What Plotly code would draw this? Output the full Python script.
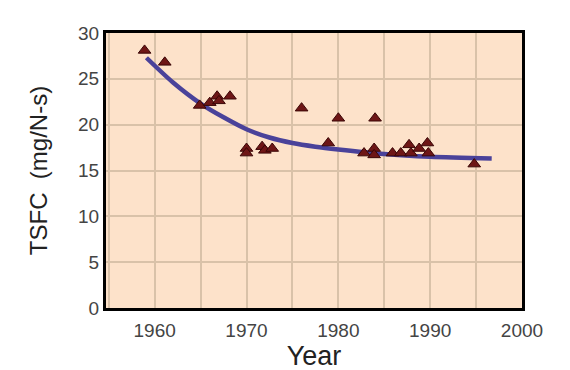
import plotly.graph_objects as go

# Measured data points (year, TSFC mg/N-s)
years = [1958.9, 1961.1, 1964.9, 1966.0, 1966.8, 1967.0, 1968.2,
         1970.0, 1970.0, 1971.7, 1972.0, 1972.8,
         1976.0, 1978.9, 1980.0, 1982.8, 1983.9, 1983.9, 1984.0,
         1985.9, 1986.8, 1987.7, 1987.9, 1988.8, 1989.7, 1989.8, 1994.8]
tsfc = [28.1, 26.8, 22.1, 22.4, 23.1, 22.6, 23.1,
        17.4, 16.9, 17.6, 17.2, 17.4,
        21.8, 18.0, 20.7, 16.9, 17.4, 16.7, 20.7,
        16.9, 16.9, 17.8, 16.9, 17.4, 18.0, 16.9, 15.7]

# Trend curve
trend_years = [1959.1, 1962, 1965, 1967.5, 1970, 1972.5, 1975, 1977.5, 1980, 1985, 1990, 1996.7]
trend_tsfc = [27.3, 24.6, 22.3, 20.8, 19.5, 18.6, 18.0, 17.6, 17.3, 16.8, 16.5, 16.3]

x_ticks = [1960, 1970, 1980, 1990, 2000]
y_ticks = [0, 5, 10, 15, 20, 25, 30]

fig = go.Figure()
fig.add_trace(go.Scatter(
    x=trend_years, y=trend_tsfc, mode="lines",
    line=dict(color="#4A429A", width=4.5, shape="spline", smoothing=0.8),
    hoverinfo="skip", showlegend=False))
fig.add_trace(go.Scatter(
    x=years, y=tsfc, mode="markers",
    marker=dict(symbol="triangle-up", size=11, color="#6E1616",
                line=dict(color="#3A0606", width=1)),
    showlegend=False))

grid = "#D9C2A9"
fig.update_layout(
    width=570, height=370,
    margin=dict(l=98, r=56, t=25, b=70),
    paper_bgcolor="white", plot_bgcolor="#FDE2CA",
    font=dict(family="Liberation Sans, Arial, sans-serif", color="#444"),
    xaxis=dict(range=[1954.7, 2000], tickvals=x_ticks,
               ticktext=[str(v) for v in x_ticks],
               showgrid=True, gridcolor=grid, gridwidth=1.5,
               minor=dict(dtick=5, tick0=1955, showgrid=True, gridcolor=grid, gridwidth=1.5),
               showline=True, linecolor="black", linewidth=3, mirror=True,
               ticks="", ticklabelstandoff=3, tickfont=dict(size=19, color="#444"),
               title=dict(text="Year", font=dict(size=27, color="#222"), standoff=0),
               zeroline=False, fixedrange=True),
    yaxis=dict(range=[0, 30], tickvals=y_ticks,
               showgrid=True, gridcolor=grid, gridwidth=1.5,
               showline=True, linecolor="black", linewidth=3, mirror=True,
               ticks="", tickfont=dict(size=19, color="#444"),
               title=dict(text="TSFC  (mg/N-s)", font=dict(size=24, color="#222"), standoff=24),
               zeroline=False, fixedrange=True),
)

fig.write_html("out.html")
